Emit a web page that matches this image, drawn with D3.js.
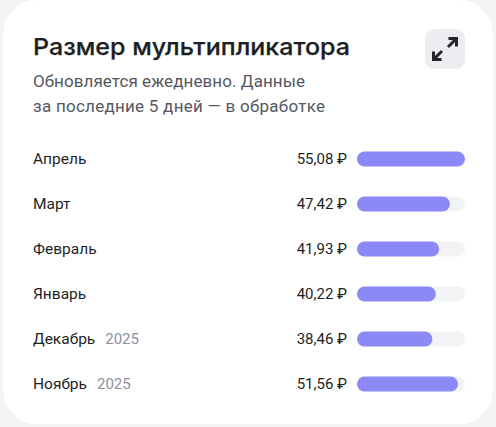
<!DOCTYPE html>
<html><head><meta charset="utf-8">
<script src="https://cdn.jsdelivr.net/npm/d3@7"></script>
<style>html,body{margin:0;padding:0;background:#f2f3f5}svg{display:block}text{font-family:Roboto,sans-serif}</style>
</head><body><svg id="c" width="496" height="427"></svg>
<script>
const months = ["Апрель","Март","Февраль","Январь","Декабрь","Ноябрь"];
const years = ["","","","","2025","2025"];
const values = [55.08,47.42,41.93,40.22,38.46,51.56];
const valueLabels = ["55,08 ₽","47,42 ₽","41,93 ₽","40,22 ₽","38,46 ₽","51,56 ₽"];
const titleText = "Размер мультипликатора";
const subtitleLines = ["Обновляется ежедневно. Данные","за последние 5 дней — в обработке"];
const subtitleWidths = [272,292];

const svg = d3.select("#c");
svg.append("rect").attr("x",3).attr("y",0).attr("width",490).attr("height",424).attr("rx",34).attr("fill","#fff");

svg.append("text").attr("x",33).attr("y",55).attr("font-size",23).attr("font-weight",500)
  .style("font-family","Inter").attr("fill","#1d1f24").attr("stroke","#1d1f24").attr("stroke-width",0.25)
  .attr("textLength",317).attr("lengthAdjust","spacingAndGlyphs").text(titleText);
svg.selectAll(".sub").data(subtitleLines).join("text").attr("class","sub")
  .attr("x",33).attr("y",(d,i)=>87+i*25).attr("font-size",17).attr("fill","#55585f")
  .attr("textLength",(d,i)=>subtitleWidths[i]).attr("lengthAdjust","spacing").text(d=>d);

// expand button
svg.append("rect").attr("x",425).attr("y",29).attr("width",40).attr("height",40).attr("rx",9).attr("fill","#ecedf1");
const ic = svg.append("g").attr("fill","none").attr("stroke","#23252b").attr("stroke-width",3);
ic.append("path").attr("d","M448 47L456 39M448.500 38.500H456.500V46.500");
ic.append("path").attr("d","M442 51L434 59M433.500 51.500V59.500H441.500");

const x = d3.scaleLinear().domain([0,d3.max(values)]).range([0,108]);
const y = d3.scaleBand().domain(months).range([137,407]).paddingInner(0).paddingOuter(0);
const rows = svg.selectAll(".row").data(months).join("g").attr("class","row")
  .attr("transform",d=>`translate(0,${y(d)+y.bandwidth()/2-0.5})`);
rows.append("text").attr("x",33).attr("y",5).attr("font-size",15.5).attr("fill","#1d1f24").text(d=>d);
rows.append("text").attr("class","yr").attr("y",5).attr("font-size",15).attr("fill","#8a90a0")
  .text((d,i)=>years[i]);
rows.each(function(){
  const g=d3.select(this), w=g.select("text").node().getComputedTextLength();
  g.select(".yr").attr("x",33+w+10);
});
rows.append("text").attr("x",347).attr("y",5).attr("text-anchor","end").attr("font-size",15).attr("fill","#1d1f24").text((d,i)=>valueLabels[i]);
rows.append("rect").attr("x",357).attr("y",-7.5).attr("width",x.range()[1]).attr("height",15).attr("rx",7.5).attr("fill","#f2f3f5");
rows.append("rect").attr("x",357).attr("y",-7.5).attr("width",(d,i)=>x(values[i])).attr("height",15).attr("rx",7.5).attr("fill","#8c89f7");
</script></body></html>
